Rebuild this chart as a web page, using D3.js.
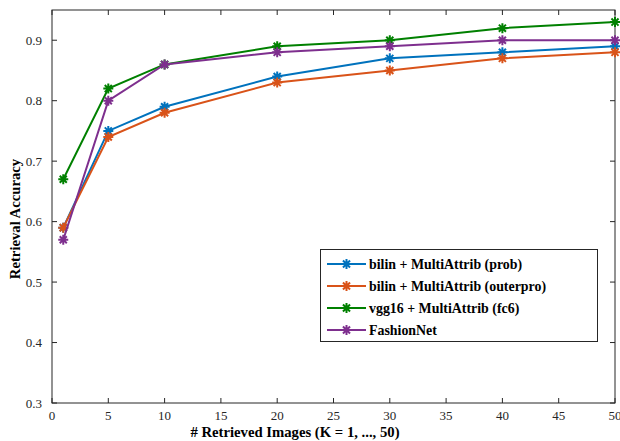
<!DOCTYPE html>
<html>
<head>
<meta charset="utf-8">
<script src="https://cdn.jsdelivr.net/npm/d3@7"></script>
<style>
  body { margin: 0; background: #fff; }
  text { font-family: "Liberation Serif", "Times New Roman", serif; }
</style>
</head>
<body>
<svg id="chart" width="620" height="441"></svg>
<script>
// retrieval accuracy at top-K
var kValues = [1, 5, 10, 20, 30, 40, 50];
var seriesNames = ["bilin + MultiAttrib (prob)", "bilin + MultiAttrib (outerpro)", "vgg16 + MultiAttrib (fc6)", "FashionNet"];
var probAcc = [0.59, 0.75, 0.79, 0.84, 0.87, 0.88, 0.89];
var outerproAcc = [0.59, 0.74, 0.78, 0.83, 0.85, 0.87, 0.88];
var fc6Acc = [0.67, 0.82, 0.86, 0.89, 0.90, 0.92, 0.93];
var fashionNetAcc = [0.57, 0.80, 0.86, 0.88, 0.89, 0.90, 0.90];
var xTicks = [0, 5, 10, 15, 20, 25, 30, 35, 40, 45, 50];
var yTicks = [0.3, 0.4, 0.5, 0.6, 0.7, 0.8, 0.9];

var colors = ["#0072BD", "#D95319", "#008000", "#7E2F8E"];
var allSeries = [probAcc, outerproAcc, fc6Acc, fashionNetAcc];

var svg = d3.select("#chart");
// note: "top" clashes with window.top, so use plot* names
var plotL = 52, plotR = 615, plotT = 10, plotB = 403;

var x = d3.scaleLinear().domain([0, 50]).range([plotL, plotR]);
var y = d3.scaleLinear().domain([0.3, 0.95]).range([plotB, plotT]);

var axisColor = "#262626";

// box + ticks (matlab style, ticks inside on all sides)
var g = svg.append("g");
g.append("rect")
    .attr("x", plotL).attr("y", plotT)
    .attr("width", plotR - plotL).attr("height", plotB - plotT)
    .attr("fill", "none").attr("stroke", axisColor).attr("stroke-width", 1);

var tl = 5;
xTicks.forEach(function(t) {
    g.append("line").attr("x1", x(t)).attr("x2", x(t)).attr("y1", plotB).attr("y2", plotB - tl).attr("stroke", axisColor);
    g.append("line").attr("x1", x(t)).attr("x2", x(t)).attr("y1", plotT).attr("y2", plotT + tl).attr("stroke", axisColor);
    g.append("text").attr("x", x(t)).attr("y", plotB + 17)
        .attr("text-anchor", "middle").attr("font-size", 13).attr("fill", axisColor)
        .text(t);
});
yTicks.forEach(function(t) {
    g.append("line").attr("x1", plotL).attr("x2", plotL + tl).attr("y1", y(t)).attr("y2", y(t)).attr("stroke", axisColor);
    g.append("line").attr("x1", plotR).attr("x2", plotR - tl).attr("y1", y(t)).attr("y2", y(t)).attr("stroke", axisColor);
    g.append("text").attr("x", plotL - 10).attr("y", y(t) + 4.5)
        .attr("text-anchor", "end").attr("font-size", 13).attr("fill", axisColor)
        .text(d3.format(".1f")(t));
});

// axis titles
svg.append("text")
    .attr("x", 295).attr("y", 437)
    .attr("text-anchor", "middle").attr("font-size", 14.7).attr("font-weight", "bold").attr("fill", "#000")
    .text("# Retrieved Images (K = 1, ..., 50)");
svg.append("text")
    .attr("transform", "translate(20,219) rotate(-90)")
    .attr("text-anchor", "middle").attr("font-size", 14.7).attr("font-weight", "bold").attr("fill", "#000")
    .text("Retrieval Accuracy");

// asterisk marker path
var asterisk = function(cx, cy, r) {
    var d = "";
    var a = r * 0.7071;
    d += "M" + (cx - r) + "," + cy + "L" + (cx + r) + "," + cy;
    d += "M" + cx + "," + (cy - r) + "L" + cx + "," + (cy + r);
    d += "M" + (cx - a) + "," + (cy - a) + "L" + (cx + a) + "," + (cy + a);
    d += "M" + (cx - a) + "," + (cy + a) + "L" + (cx + a) + "," + (cy - a);
    return d;
};

var line = d3.line()
    .x(function(d, i) { return x(kValues[i]); })
    .y(function(d) { return y(d); });

allSeries.forEach(function(s, si) {
    var sg = svg.append("g");
    sg.append("path").datum(s).attr("d", line)
        .attr("fill", "none").attr("stroke", colors[si]).attr("stroke-width", 2);
    sg.selectAll("path.mk").data(s).enter().append("path")
        .attr("class", "mk")
        .attr("d", function(d, i) { return asterisk(x(kValues[i]), y(d), 5); })
        .attr("stroke", colors[si]).attr("stroke-width", 2).attr("fill", "none");
});

// legend
var lg = svg.append("g");
lg.append("rect").attr("x", 320.5).attr("y", 249.5).attr("width", 277).attr("height", 92)
    .attr("fill", "#fff").attr("stroke", axisColor).attr("stroke-width", 1);
seriesNames.forEach(function(n, i) {
    var ly = 264 + i * 22;
    lg.append("line").attr("x1", 327).attr("x2", 366).attr("y1", ly).attr("y2", ly)
        .attr("stroke", colors[i]).attr("stroke-width", 2);
    lg.append("path").attr("d", asterisk(346.5, ly, 5))
        .attr("stroke", colors[i]).attr("stroke-width", 2).attr("fill", "none");
    lg.append("text").attr("x", 369).attr("y", ly + 4.8)
        .attr("font-size", 13.9).attr("font-weight", "bold").attr("fill", "#000")
        .text(n);
});
</script>
</body>
</html>
